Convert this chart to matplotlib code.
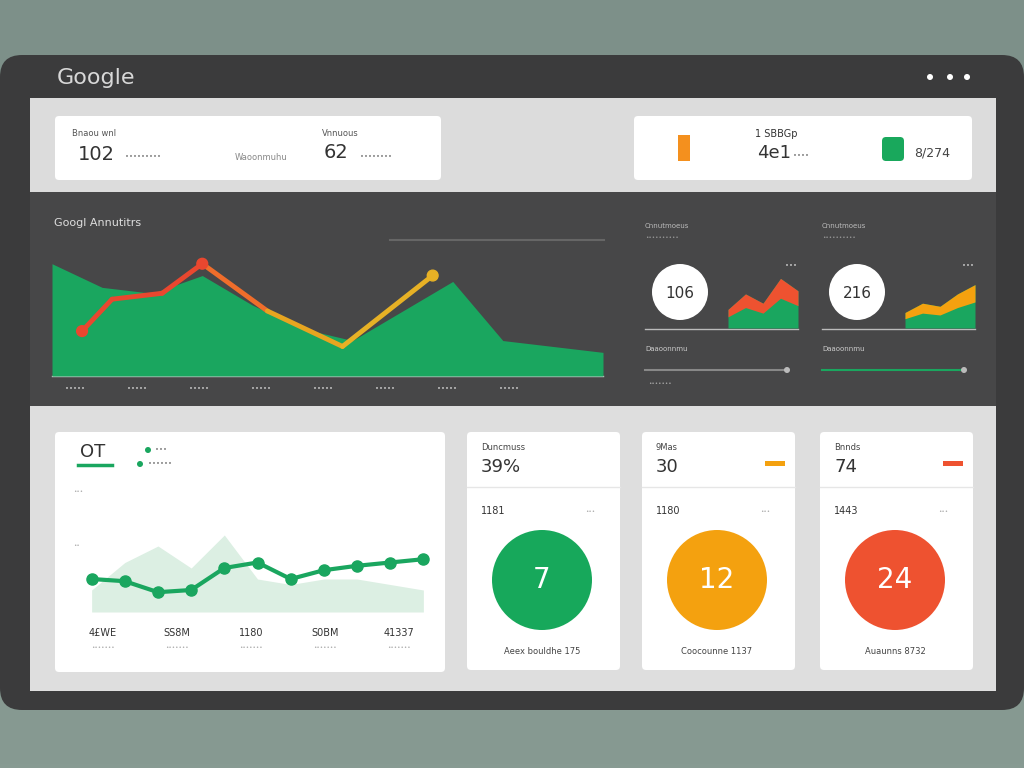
import matplotlib
matplotlib.use("Agg")
import matplotlib.pyplot as plt
from matplotlib.patches import FancyBboxPatch, Rectangle, Circle
import numpy as np

W, H = 1024, 768
# ---- data ----
area_x = [0, 1, 2, 3, 4, 5, 6, 7, 8, 9, 10, 11]
area_y = [95, 75, 70, 85, 60, 40, 30, 55, 80, 30, 25, 20]
line_x = [0.6, 1.2, 2.2, 3.0, 4.3, 5.8, 7.6]
line_y = [38, 65, 70, 95, 55, 25, 85]
area_ticks = ["\u2022\u2022\u2022\u2022\u2022"] * 8
bottom_bg_x = [0, 1, 2, 3, 4, 5, 6, 7, 8, 9, 10]
bottom_bg_y = [20, 45, 60, 40, 70, 30, 25, 30, 30, 25, 20]
bottom_x = [0, 1, 2, 3, 4, 5, 6, 7, 8, 9, 10]
bottom_y = [30, 28, 18, 20, 40, 45, 30, 38, 42, 45, 48]
bottom_labels = ["4\u00a3WE", "SS8M", "1180", "S0BM", "41337"]
kpi_titles = ["Duncmuss", "9Mas", "Bnnds"]
kpi_values = ["39%", "30", "74"]
kpi_circle = ["7", "12", "24"]
kpi_colors = ["#17a85b", "#f4a10f", "#ee5230"]
kpi_sub = ["1181", "1180", "1443"]
kpi_foot = ["Aeex bouldhe 175", "Coocounne 1137", "Auaunns 8732"]
mini_bars = [[30, 55, 40, 80, 60], [25, 40, 35, 55, 70]]
mini_vals = ["106", "216"]

fig = plt.figure(figsize=(10.24, 7.68), dpi=100)
bg = fig.add_axes([0, 0, 1, 1])
bg.set_xlim(0, W); bg.set_ylim(H, 0); bg.axis("off")
grad = np.linspace(0, 1, 256).reshape(-1, 1)
bg.imshow(grad, extent=[0, W, H, 0], cmap=matplotlib.colors.LinearSegmentedColormap.from_list("g", ["#7d9089", "#879a92"]), aspect="auto")

def rbox(x, y, w, h, fc, r=8, ec="none", z=1):
    bg.add_patch(FancyBboxPatch((x, y), w, h, boxstyle=f"round,pad=0,rounding_size={r}", fc=fc, ec=ec, zorder=z))

rbox(0, 55, 1024, 655, "#3b3b3c", r=22)
bg.text(57, 78, "Google", color="#d8d8d8", fontsize=16, va="center", zorder=3)
for cx in (930, 950, 967):
    bg.add_patch(Circle((cx, 77), 3, fc="white", zorder=3))
bg.add_patch(Rectangle((30, 98), 966, 94, fc="#dcdcdc", zorder=2))
bg.add_patch(Rectangle((30, 192), 966, 214, fc="#474748", zorder=2))
bg.add_patch(Rectangle((30, 406), 966, 285, fc="#dedede", zorder=2))
rbox(55, 116, 386, 64, "white", r=4, z=3)
rbox(634, 116, 338, 64, "white", r=4, z=3)
t = dict(zorder=4, va="center")
bg.text(72, 134, "Bnaou wnl", fontsize=6, color="#555", **t)
bg.text(78, 154, "102", fontsize=14, color="#333", **t)
bg.text(125, 157, "\u2022\u2022\u2022\u2022\u2022\u2022\u2022\u2022\u2022", fontsize=5, color="#888", **t)
bg.text(235, 157, "Waoonmuhu", fontsize=6, color="#888", **t)
bg.text(322, 134, "Vnnuous", fontsize=6, color="#555", **t)
bg.text(324, 153, "62", fontsize=14, color="#333", **t)
bg.text(360, 157, "\u2022\u2022\u2022\u2022\u2022\u2022\u2022\u2022", fontsize=5, color="#888", **t)
bg.add_patch(Rectangle((678, 135), 12, 26, fc="#f4901e", zorder=4))
bg.text(755, 134, "1 SBBGp", fontsize=7, color="#333", **t)
bg.text(757, 153, "4e1", fontsize=13, color="#333", **t)
bg.text(793, 156, "\u2022\u2022\u2022\u2022", fontsize=5, color="#888", **t)
rbox(882, 137, 22, 24, "#19a85c", r=4, z=4)
bg.text(914, 153, "8/274", fontsize=9, color="#444", **t)
bg.text(54, 223, "Googl Annutitrs", fontsize=8, color="#ddd", **t)
bg.plot([390, 604], [240, 240], color="#666", lw=1.5, zorder=3)

# main area chart
ax = fig.add_axes([52 / W, 1 - 376 / H, 551 / W, 130 / H])
ax.fill_between(area_x, area_y, color="#1aa65f", lw=0)
pts = list(zip(line_x, line_y))
cols = ["#e9472f", "#e9472f", "#e9472f", "#ef6d2b", "#e7a520", "#e7b125"]
for i in range(len(pts) - 1):
    ax.plot([pts[i][0], pts[i + 1][0]], [pts[i][1], pts[i + 1][1]], color=cols[i], lw=3.5, solid_capstyle="round")
ax.scatter([line_x[0], line_x[3], line_x[-1]], [line_y[0], line_y[3], line_y[-1]], c=["#e9472f", "#e9472f", "#e7b125"], s=60, zorder=5)
ax.set_xlim(0, 11); ax.set_ylim(0, 110); ax.axis("off")
for i, lab in enumerate(area_ticks):
    bg.text(75 + i * 62, 389, lab, fontsize=5, color="#bbb", ha="center", **t)
bg.plot([52, 603], [376, 376], color="#ccc", lw=1, zorder=4)

# mini widgets
for k, x0 in enumerate((645, 822)):
    bg.text(x0, 226, "Cnnutmoeus", fontsize=5, color="#bbb", **t)
    bg.text(x0, 238, "\u2022\u2022\u2022\u2022\u2022\u2022\u2022\u2022\u2022\u2022", fontsize=4, color="#999", **t)
    bg.add_patch(Circle((x0 + 35, 292), 28, fc="white", zorder=4))
    bg.text(x0 + 35, 293, mini_vals[k], fontsize=11, color="#333", ha="center", **t)
    mx = fig.add_axes([(x0 + 83) / W, 1 - 328 / H, 70 / W, 62 / H])
    xs = np.arange(len(mini_bars[k]))
    mx.fill_between(xs, mini_bars[k], color="#1aa65f", lw=0)
    mx.fill_between(xs, mini_bars[k], [v * 0.6 for v in mini_bars[k]], color=["#ee5230", "#f4a10f"][k], lw=0)
    mx.set_xlim(0, 4); mx.set_ylim(0, 100); mx.axis("off")
    bg.text(x0 + 140, 266, "\u2022\u2022\u2022", fontsize=5, color="#bbb", **t)
    bg.plot([x0, x0 + 153], [329, 329], color="#bbb", lw=1, zorder=4)
    bg.text(x0, 349, "Daaoonnmu", fontsize=5, color="#ccc", **t)
    bg.plot([x0, x0 + 142], [370, 370], color=["#888", "#1aa65f"][k], lw=1.5, zorder=4)
    bg.add_patch(Circle((x0 + 142, 370), 3, fc="#bbb", zorder=4))
bg.text(648, 384, "\u2022\u2022\u2022\u2022\u2022\u2022\u2022", fontsize=4, color="#aaa", **t)

# bottom line card
rbox(55, 432, 390, 240, "white", r=4, z=3)
bg.text(80, 452, "OT", fontsize=13, color="#333", **t)
bg.plot([78, 112], [465, 465], color="#1aa65f", lw=2.5, zorder=4)
bg.add_patch(Circle((148, 450), 3, fc="#1aa65f", zorder=4))
bg.add_patch(Circle((140, 464), 3, fc="#1aa65f", zorder=4))
bg.text(155, 450, "\u2022\u2022\u2022", fontsize=5, color="#888", **t)
bg.text(148, 464, "\u2022\u2022\u2022\u2022\u2022\u2022", fontsize=5, color="#888", **t)
bg.text(73, 492, "\u2022\u2022\u2022", fontsize=4, color="#aaa", **t)
bg.text(73, 546, "\u2022\u2022", fontsize=4, color="#aaa", **t)
lx = fig.add_axes([85 / W, 1 - 612 / H, 345 / W, 110 / H])
lx.fill_between(bottom_bg_x, bottom_bg_y, color="#dcefe3", lw=0)
lx.plot(bottom_x, bottom_y, color="#1aa65f", lw=3, marker="o", ms=8)
lx.set_xlim(-0.2, 10.2); lx.set_ylim(0, 100); lx.axis("off")
for i, lab in enumerate(bottom_labels):
    bx = 103 + i * 74
    bg.text(bx, 633, lab, fontsize=7, color="#333", ha="center", **t)
    bg.text(bx, 648, "\u2022\u2022\u2022\u2022\u2022\u2022\u2022", fontsize=4, color="#aaa", ha="center", **t)

# KPI cards
for i, x0 in enumerate((467, 642, 820)):
    rbox(x0, 432, 153, 238, "white", r=4, z=3)
    bg.text(x0 + 14, 447, kpi_titles[i], fontsize=6, color="#444", **t)
    bg.text(x0 + 14, 467, kpi_values[i], fontsize=13, color="#333", **t)
    if i > 0:
        bg.add_patch(Rectangle((x0 + 123, 461), 20, 5, fc=kpi_colors[i], zorder=4))
    bg.plot([x0, x0 + 153], [487, 487], color="#e6e6e6", lw=1, zorder=4)
    bg.text(x0 + 14, 511, kpi_sub[i], fontsize=7, color="#333", **t)
    bg.text(x0 + 118, 511, "\u2022\u2022\u2022", fontsize=4, color="#aaa", **t)
    bg.add_patch(Circle((x0 + 75, 580), 50, fc=kpi_colors[i], zorder=4))
    bg.text(x0 + 75, 580, kpi_circle[i], fontsize=20, color="white", ha="center", zorder=5, va="center")
    bg.text(x0 + 75, 651, kpi_foot[i], fontsize=6, color="#444", ha="center", **t)

fig.savefig("out.png", dpi=100)
